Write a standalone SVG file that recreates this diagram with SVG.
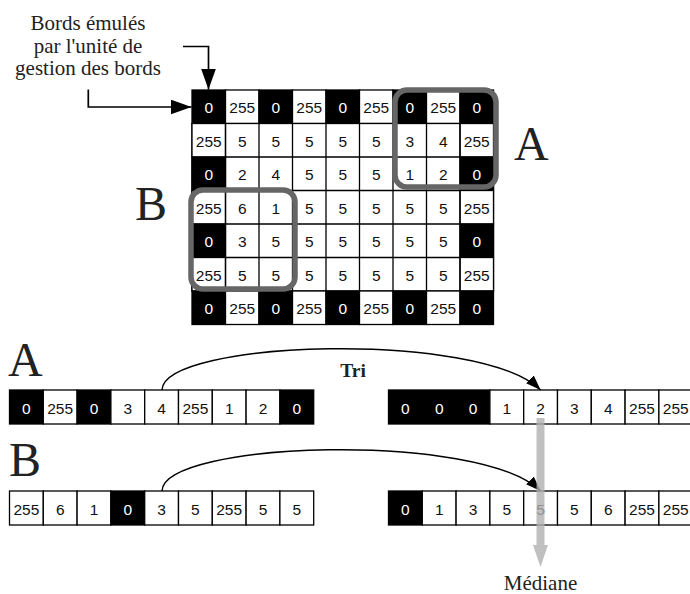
<svg xmlns="http://www.w3.org/2000/svg" width="690" height="594" viewBox="0 0 690 594">
  <defs>
    <style>
      .cw { fill: #ffffff; stroke: #000; stroke-width: 1.3; }
      .cb { fill: #000000; stroke: #000; stroke-width: 1.3; }
      .n { font-family: "Liberation Sans", Arial, sans-serif; font-size: 15.5px; text-anchor: middle; fill: #111; }
      .nw { fill: #fff; }
      .serif { font-family: "Liberation Serif", "Times New Roman", serif; fill: #222; }
      .big { font-size: 48px; }
      .note { font-size: 21px; text-anchor: middle; }
      .tri { font-size: 19.5px; font-weight: bold; text-anchor: middle; }
      .frame { fill: none; stroke: #666; stroke-width: 5.5; }
      .wire { fill: none; stroke: #000; stroke-width: 1.7; }
      .arc { fill: none; stroke: #000; stroke-width: 1.5; }
    </style>
    <marker id="head-lg" markerUnits="userSpaceOnUse" markerWidth="22" markerHeight="16" refX="21" refY="7.5" orient="auto">
      <path d="M0,0 L21,7.5 L0,15 Z" fill="#000"/>
    </marker>
    <marker id="head-sm" markerUnits="userSpaceOnUse" markerWidth="16" markerHeight="12" refX="15" refY="5.5" orient="auto">
      <path d="M0,0 L15,5.5 L0,11 Z" fill="#000"/>
    </marker>
  </defs>

  <!-- Caption for the emulated border -->
  <g id="label-borders" class="serif note">
    <text x="88" y="30">Bords émulés</text>
    <text x="88" y="52.5">par l'unité de</text>
    <text x="88" y="75">gestion des bords</text>
  </g>

  <!-- 9x7 pixel grid with emulated borders -->
  <g id="grid">
    <!-- row 0 -->
    <rect class="cb" x="192" y="90" width="33.5" height="33.5"/>
    <rect class="cw" x="225.5" y="90" width="33.5" height="33.5"/>
    <rect class="cb" x="259" y="90" width="33.5" height="33.5"/>
    <rect class="cw" x="292.5" y="90" width="33.5" height="33.5"/>
    <rect class="cb" x="326" y="90" width="33.5" height="33.5"/>
    <rect class="cw" x="359.5" y="90" width="33.5" height="33.5"/>
    <rect class="cb" x="393" y="90" width="33.5" height="33.5"/>
    <rect class="cw" x="426.5" y="90" width="33.5" height="33.5"/>
    <rect class="cb" x="460" y="90" width="33.5" height="33.5"/>
    <!-- rows 1..5 -->
    <rect class="cw" x="192" y="123.5" width="301.5" height="167.5"/>
    <rect class="cw" x="192" y="123.5" width="33.5" height="33.5"/>
    <rect class="cb" x="192" y="157" width="33.5" height="33.5"/>
    <rect class="cw" x="192" y="190.5" width="33.5" height="33.5"/>
    <rect class="cb" x="192" y="224" width="33.5" height="33.5"/>
    <rect class="cw" x="192" y="257.5" width="33.5" height="33.5"/>
    <rect class="cw" x="460" y="123.5" width="33.5" height="33.5"/>
    <rect class="cb" x="460" y="157" width="33.5" height="33.5"/>
    <rect class="cw" x="460" y="190.5" width="33.5" height="33.5"/>
    <rect class="cb" x="460" y="224" width="33.5" height="33.5"/>
    <rect class="cw" x="460" y="257.5" width="33.5" height="33.5"/>
    <!-- inner cell lines -->
    <path d="M225.5,123.5 V291 M259,123.5 V291 M292.5,123.5 V291 M326,123.5 V291 M359.5,123.5 V291 M393,123.5 V291 M426.5,123.5 V291 M460,123.5 V291 M225.5,157 H460 M225.5,190.5 H460 M225.5,224 H460 M225.5,257.5 H460" stroke="#000" stroke-width="1.3" fill="none"/>
    <!-- row 6 -->
    <rect class="cb" x="192" y="291" width="33.5" height="33.5"/>
    <rect class="cw" x="225.5" y="291" width="33.5" height="33.5"/>
    <rect class="cb" x="259" y="291" width="33.5" height="33.5"/>
    <rect class="cw" x="292.5" y="291" width="33.5" height="33.5"/>
    <rect class="cb" x="326" y="291" width="33.5" height="33.5"/>
    <rect class="cw" x="359.5" y="291" width="33.5" height="33.5"/>
    <rect class="cb" x="393" y="291" width="33.5" height="33.5"/>
    <rect class="cw" x="426.5" y="291" width="33.5" height="33.5"/>
    <rect class="cb" x="460" y="291" width="33.5" height="33.5"/>

    <g class="n">
      <text x="208.75" y="113" class="nw">0</text><text x="242.25" y="113">255</text><text x="275.75" y="113" class="nw">0</text><text x="309.25" y="113">255</text><text x="342.75" y="113" class="nw">0</text><text x="376.25" y="113">255</text><text x="409.75" y="113" class="nw">0</text><text x="443.25" y="113">255</text><text x="476.75" y="113" class="nw">0</text>
      <text x="208.75" y="146.5">255</text><text x="242.25" y="146.5">5</text><text x="275.75" y="146.5">5</text><text x="309.25" y="146.5">5</text><text x="342.75" y="146.5">5</text><text x="376.25" y="146.5">5</text><text x="409.75" y="146.5">3</text><text x="443.25" y="146.5">4</text><text x="476.75" y="146.5">255</text>
      <text x="208.75" y="180" class="nw">0</text><text x="242.25" y="180">2</text><text x="275.75" y="180">4</text><text x="309.25" y="180">5</text><text x="342.75" y="180">5</text><text x="376.25" y="180">5</text><text x="409.75" y="180">1</text><text x="443.25" y="180">2</text><text x="476.75" y="180" class="nw">0</text>
      <text x="208.75" y="213.5">255</text><text x="242.25" y="213.5">6</text><text x="275.75" y="213.5">1</text><text x="309.25" y="213.5">5</text><text x="342.75" y="213.5">5</text><text x="376.25" y="213.5">5</text><text x="409.75" y="213.5">5</text><text x="443.25" y="213.5">5</text><text x="476.75" y="213.5">255</text>
      <text x="208.75" y="247" class="nw">0</text><text x="242.25" y="247">3</text><text x="275.75" y="247">5</text><text x="309.25" y="247">5</text><text x="342.75" y="247">5</text><text x="376.25" y="247">5</text><text x="409.75" y="247">5</text><text x="443.25" y="247">5</text><text x="476.75" y="247" class="nw">0</text>
      <text x="208.75" y="280.5">255</text><text x="242.25" y="280.5">5</text><text x="275.75" y="280.5">5</text><text x="309.25" y="280.5">5</text><text x="342.75" y="280.5">5</text><text x="376.25" y="280.5">5</text><text x="409.75" y="280.5">5</text><text x="443.25" y="280.5">5</text><text x="476.75" y="280.5">255</text>
      <text x="208.75" y="314" class="nw">0</text><text x="242.25" y="314">255</text><text x="275.75" y="314" class="nw">0</text><text x="309.25" y="314">255</text><text x="342.75" y="314" class="nw">0</text><text x="376.25" y="314">255</text><text x="409.75" y="314" class="nw">0</text><text x="443.25" y="314">255</text><text x="476.75" y="314" class="nw">0</text>
    </g>
  </g>

  <!-- 3x3 windows -->
  <g id="window-A">
    <rect class="frame" x="395" y="90" width="101" height="97" rx="12"/>
    <text class="serif big" x="514" y="160">A</text>
  </g>
  <g id="window-B">
    <rect class="frame" x="191" y="190" width="104" height="99" rx="12"/>
    <text class="serif big" x="135" y="220">B</text>
  </g>

  <!-- Window A, unsorted -->
  <g id="array-A-in">
    <text class="serif big" x="8" y="376">A</text>
    <rect class="cb" x="9.5" y="390" width="33.8" height="34"/>
    <rect class="cw" x="43.3" y="390" width="33.8" height="34"/>
    <rect class="cb" x="77.1" y="390" width="33.8" height="34"/>
    <rect class="cw" x="110.9" y="390" width="33.8" height="34"/>
    <rect class="cw" x="144.7" y="390" width="33.8" height="34"/>
    <rect class="cw" x="178.5" y="390" width="33.8" height="34"/>
    <rect class="cw" x="212.3" y="390" width="33.8" height="34"/>
    <rect class="cw" x="246.1" y="390" width="33.8" height="34"/>
    <rect class="cb" x="279.9" y="390" width="33.8" height="34"/>
    <g class="n">
      <text x="26.4" y="413.5" class="nw">0</text><text x="60.2" y="413.5">255</text><text x="94" y="413.5" class="nw">0</text><text x="127.8" y="413.5">3</text><text x="161.6" y="413.5">4</text><text x="195.4" y="413.5">255</text><text x="229.2" y="413.5">1</text><text x="263" y="413.5">2</text><text x="296.8" y="413.5" class="nw">0</text>
    </g>
  </g>

  <!-- Window A, sorted -->
  <g id="array-A-sorted">
    <rect class="cb" x="388.5" y="390" width="101.4" height="34"/>
    <rect class="cw" x="489.9" y="390" width="33.8" height="34"/>
    <rect class="cw" x="523.7" y="390" width="33.8" height="34"/>
    <rect class="cw" x="557.5" y="390" width="33.8" height="34"/>
    <rect class="cw" x="591.3" y="390" width="33.8" height="34"/>
    <rect class="cw" x="625.1" y="390" width="33.8" height="34"/>
    <rect class="cw" x="658.9" y="390" width="33.8" height="34"/>
    <g class="n">
      <text x="405.4" y="413.5" class="nw">0</text><text x="439.2" y="413.5" class="nw">0</text><text x="473" y="413.5" class="nw">0</text><text x="506.8" y="413.5">1</text><text x="540.6" y="413.5">2</text><text x="574.4" y="413.5">3</text><text x="608.2" y="413.5">4</text><text x="642" y="413.5">255</text><text x="675.8" y="413.5">255</text>
    </g>
  </g>

  <!-- Window B, unsorted -->
  <g id="array-B-in">
    <text class="serif big" x="9" y="476">B</text>
    <rect class="cw" x="9.5" y="491" width="33.8" height="34"/>
    <rect class="cw" x="43.3" y="491" width="33.8" height="34"/>
    <rect class="cw" x="77.1" y="491" width="33.8" height="34"/>
    <rect class="cb" x="110.9" y="491" width="33.8" height="34"/>
    <rect class="cw" x="144.7" y="491" width="33.8" height="34"/>
    <rect class="cw" x="178.5" y="491" width="33.8" height="34"/>
    <rect class="cw" x="212.3" y="491" width="33.8" height="34"/>
    <rect class="cw" x="246.1" y="491" width="33.8" height="34"/>
    <rect class="cw" x="279.9" y="491" width="33.8" height="34"/>
    <g class="n">
      <text x="26.4" y="514.5">255</text><text x="60.2" y="514.5">6</text><text x="94" y="514.5">1</text><text x="127.8" y="514.5" class="nw">0</text><text x="161.6" y="514.5">3</text><text x="195.4" y="514.5">5</text><text x="229.2" y="514.5">255</text><text x="263" y="514.5">5</text><text x="296.8" y="514.5">5</text>
    </g>
  </g>

  <!-- Window B, sorted -->
  <g id="array-B-sorted">
    <rect class="cb" x="388.5" y="491" width="33.8" height="34"/>
    <rect class="cw" x="422.3" y="491" width="33.8" height="34"/>
    <rect class="cw" x="456.1" y="491" width="33.8" height="34"/>
    <rect class="cw" x="489.9" y="491" width="33.8" height="34"/>
    <rect class="cw" x="523.7" y="491" width="33.8" height="34"/>
    <rect class="cw" x="557.5" y="491" width="33.8" height="34"/>
    <rect class="cw" x="591.3" y="491" width="33.8" height="34"/>
    <rect class="cw" x="625.1" y="491" width="33.8" height="34"/>
    <rect class="cw" x="658.9" y="491" width="33.8" height="34"/>
    <g class="n">
      <text x="405.4" y="514.5" class="nw">0</text><text x="439.2" y="514.5">1</text><text x="473" y="514.5">3</text><text x="506.8" y="514.5">5</text><text x="540.6" y="514.5">5</text><text x="574.4" y="514.5">5</text><text x="608.2" y="514.5">6</text><text x="642" y="514.5">255</text><text x="675.8" y="514.5">255</text>
    </g>
  </g>

  <!-- Connectors -->
  <g id="connectors">
    <path class="wire" d="M183,46.5 H208.5 V89.5" marker-end="url(#head-lg)"/>
    <path class="wire" d="M88.3,89.5 V107 H191.5" marker-end="url(#head-lg)"/>
    <path class="arc" d="M162,390 C163,340 480,330 540.6,390" marker-end="url(#head-sm)"/>
    <path class="arc" d="M162,491 C163,441 480,431 540.6,491" marker-end="url(#head-sm)"/>
    <text class="serif tri" x="353" y="376.5">Tri</text>
    <path d="M536.5,418 H544.5 V545 H548 L540.5,567 L533,545 H536.5 Z" fill="#b0b0b0" fill-opacity="0.8"/>
  </g>

  <g id="label-median">
    <text class="serif note" x="540.5" y="590">Médiane</text>
  </g>
</svg>
